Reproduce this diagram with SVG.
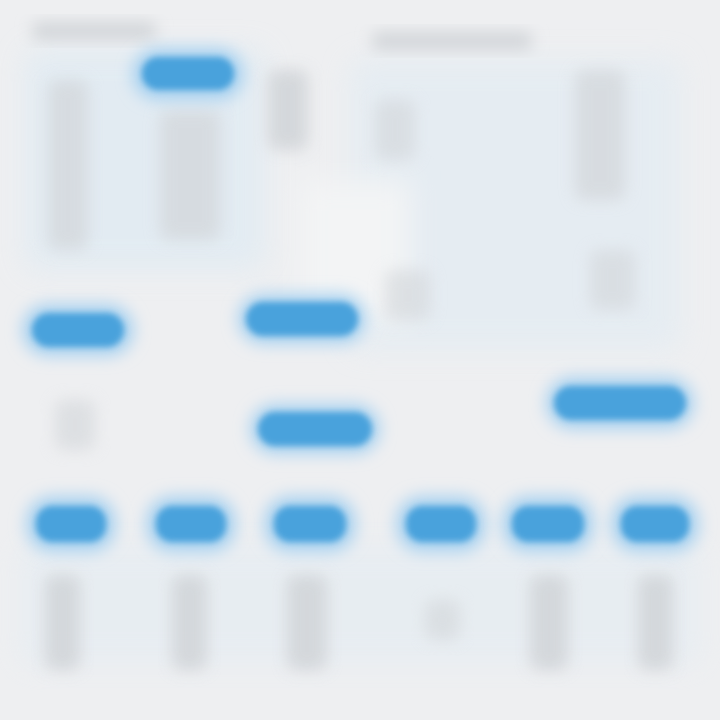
<svg xmlns="http://www.w3.org/2000/svg" width="720" height="720" viewBox="0 0 720 720">
<defs>
<filter id="b" x="-40%" y="-40%" width="180%" height="180%"><feGaussianBlur stdDeviation="8"/></filter>
<filter id="bp" x="-30%" y="-30%" width="160%" height="160%"><feGaussianBlur stdDeviation="14"/></filter>
<filter id="bs" x="-30%" y="-30%" width="160%" height="160%"><feGaussianBlur stdDeviation="3"/></filter>
<style>
.pill{fill:#48a2dc;filter:url(#bs)}
.halo{fill:#a9d2f0;filter:url(#b)}
.txt{fill:#d2d5d9;filter:url(#b)}
.pan{fill:#e0ebf3;filter:url(#bp)}
</style>
</defs>
<rect width="720" height="720" fill="#eeeff1"/>
<g id="panels">
<rect class="pan" x="25" y="50" width="240" height="220" rx="10" opacity="0.8"/>
<rect class="pan" x="350" y="60" width="330" height="290" rx="10" opacity="0.6"/>
<rect x="300" y="180" width="110" height="140" fill="#f3f4f5" filter="url(#bp)"/>
<rect class="pan" x="20" y="545" width="680" height="120" rx="10" opacity="0.45"/>
</g>
<g id="headings">
<rect class="txt" x="32" y="22" width="124" height="18" rx="6"/>
<rect class="txt" x="372" y="32" width="160" height="18" rx="6"/>
</g>
<g id="text-blocks">
<rect class="txt" x="48" y="80" width="40" height="170" rx="8" opacity="0.7"/>
<rect class="txt" x="160" y="110" width="60" height="130" rx="8" opacity="0.7"/>
<rect class="txt" x="268" y="70" width="40" height="80" rx="8" opacity="0.9"/>
<rect class="txt" x="375" y="100" width="40" height="60" rx="8" opacity="0.6"/>
<rect class="txt" x="575" y="70" width="50" height="130" rx="8" opacity="0.7"/>
<rect class="txt" x="385" y="270" width="45" height="50" rx="8" opacity="0.6"/>
<rect class="txt" x="590" y="250" width="45" height="60" rx="8" opacity="0.6"/>
<rect class="txt" x="55" y="400" width="40" height="50" rx="8" opacity="0.6"/>
<rect class="txt" x="45" y="575" width="35" height="95" rx="8" opacity="0.9"/>
<rect class="txt" x="172" y="575" width="35" height="95" rx="8" opacity="0.9"/>
<rect class="txt" x="287" y="575" width="40" height="95" rx="8" opacity="0.9"/>
<rect class="txt" x="425" y="600" width="35" height="40" rx="8" opacity="0.6"/>
<rect class="txt" x="530" y="575" width="38" height="95" rx="8" opacity="0.9"/>
<rect class="txt" x="638" y="575" width="35" height="95" rx="8" opacity="0.9"/>
</g>
<g id="node1"><rect class="halo" x="132" y="48" width="112" height="52" rx="26"/><rect class="pill" x="142" y="57" width="92" height="33" rx="16"/></g>
<g id="node2"><rect class="halo" x="22" y="304" width="112" height="52" rx="26"/><rect class="pill" x="32" y="313" width="92" height="34" rx="17"/></g>
<g id="node3"><rect class="halo" x="238" y="294" width="128" height="50" rx="25"/><rect class="pill" x="246" y="302" width="112" height="34" rx="17"/></g>
<g id="node4"><rect class="halo" x="250" y="404" width="130" height="50" rx="25"/><rect class="pill" x="258" y="412" width="114" height="34" rx="17"/></g>
<g id="node5"><rect class="halo" x="546" y="377" width="148" height="52" rx="26"/><rect class="pill" x="554" y="386" width="132" height="34" rx="17"/></g>
<g id="node6"><rect class="halo" x="26" y="496" width="90" height="56" rx="26"/><rect class="pill" x="36" y="506" width="70" height="36" rx="16"/></g>
<g id="node7"><rect class="halo" x="146" y="496" width="90" height="56" rx="26"/><rect class="pill" x="156" y="506" width="70" height="36" rx="16"/></g>
<g id="node8"><rect class="halo" x="264" y="496" width="92" height="56" rx="26"/><rect class="pill" x="274" y="506" width="72" height="36" rx="16"/></g>
<g id="node9"><rect class="halo" x="396" y="496" width="90" height="56" rx="26"/><rect class="pill" x="406" y="506" width="70" height="36" rx="16"/></g>
<g id="node10"><rect class="halo" x="502" y="496" width="92" height="56" rx="26"/><rect class="pill" x="512" y="506" width="72" height="36" rx="16"/></g>
<g id="node11"><rect class="halo" x="611" y="496" width="88" height="56" rx="26"/><rect class="pill" x="621" y="506" width="68" height="36" rx="16"/></g>
<g id="connectors"></g>
</svg>
